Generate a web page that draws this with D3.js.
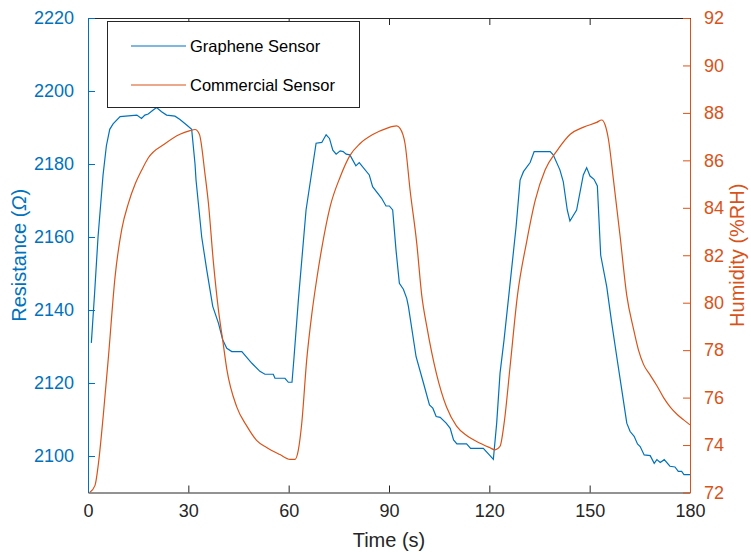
<!DOCTYPE html>
<html>
<head>
<meta charset="utf-8">
<script src="https://cdn.jsdelivr.net/npm/d3@7"></script>
<style>
  html, body { margin: 0; padding: 0; background: #fff; }
  text { font-family: "Liberation Sans", Arial, Helvetica, sans-serif; }
</style>
</head>
<body>
<svg id="chart" width="751" height="552"></svg>
<script>
// ---- data ----
const graphTime = [1, 2, 3, 4.5, 5.5, 6.5, 7.5, 9.6, 14.6, 16, 17, 18, 19.5, 20.5, 22, 23.5, 26, 27.5, 29.5, 31,
  32, 32.3, 34, 35.5, 37.3, 39, 40.3, 41.5, 43, 46, 49, 51.4, 52.9, 55.4, 55.9, 58.9, 59.9, 61,
  61.6, 62.9, 65.2, 68.2, 69.9, 71.2, 72.2, 73.2, 74.2, 75.4, 76.3, 77.2, 78.3, 80.1, 81.1, 84.1, 85.1,
  87.8, 89.1, 90.1, 91.1, 92.1, 93.1, 94.3, 95.3, 95.8, 98.1, 100.3, 102.1, 103.1, 104.1, 105.3,
  107.1, 108.3, 109.3, 110.3, 113.2, 114.4, 118.2, 120, 121.2, 122.2, 123.2, 124.4, 126, 128, 129.2,
  130.2, 132.2, 133.4, 138.2, 139.1, 141.1, 142.1, 143.3, 144.1, 146.1, 148.1, 149.1, 150.1, 151.3,
  152.3, 153.3, 155.1, 156.6, 158.1, 159.6, 161.1, 162.1, 163.3, 164.3, 165.1, 166.3, 168.1, 169.3,
  170.1, 171.1, 172.3, 174, 175.5, 176.5, 177.5, 178.2, 180];
const graphRes = [2131, 2145, 2160, 2177, 2185, 2189.5, 2191, 2193, 2193.4, 2192.5, 2193.4, 2193.7, 2194.8, 2195.5, 2194.3, 2193.4, 2193.1, 2192.2, 2190.7, 2189.5,
  2180, 2175.6, 2160, 2151, 2141, 2136.4, 2131.8, 2129.5, 2128.6, 2128.6, 2125.4, 2123.2, 2122.4, 2122.4, 2121.3, 2121.3, 2120.2, 2120.2,
  2127, 2142.7, 2167.4, 2185.7, 2185.9, 2188, 2187, 2183.8, 2182.7, 2183.6, 2183.4, 2182.7, 2182.5, 2179.5, 2180.4, 2177, 2173.8,
  2170.6, 2168.5, 2168.5, 2167.4, 2156.4, 2147.3, 2145.7, 2143.2, 2141, 2127.2, 2120, 2114, 2113.1, 2110.8, 2110.6,
  2109, 2107.6, 2104.4, 2103.3, 2103.3, 2102.1, 2102.1, 2100.3, 2099.1, 2109, 2122.7, 2131.8, 2145.5, 2162.8, 2175.6,
  2177.9, 2180.4, 2183.4, 2183.4, 2182.5, 2178.4, 2175.2, 2167.4, 2164.4, 2167.4, 2177, 2179, 2176.7, 2175.8,
  2174, 2155, 2146.4, 2136.4, 2127.2, 2118.1, 2109, 2106.7, 2105.4, 2103.3, 2102.6, 2100.3, 2100.1, 2098,
  2099, 2098.2, 2099, 2097.2, 2097, 2095.8, 2095.8, 2094.9, 2094.9];

const commTime = [0.5, 2.1, 3.1, 4.6, 6.1, 8.1, 10.1, 12.1, 14.1, 16.1, 18, 23, 27.5, 30.5, 32, 33.3, 35, 36, 37.5, 39, 40.3,
  41.5, 44.5, 47.5, 50.4, 53.4, 57.4, 60.4, 61.9, 62.9, 63.9, 65.4, 66.9, 68.4, 69.9, 72.4, 75.4, 78.3, 81.3,
  85.3, 89.3, 92.3, 93.3, 94.8, 96.3, 98.3, 99.8, 101.3, 104.2, 107.2, 110.2, 113.2, 116.2, 120, 121.7, 123.2,
  124.4, 126.2, 128.4, 131.2, 133.7, 136.7, 140.2, 144.2, 148.2, 152.1, 153.6, 154.6, 155.6, 157.1, 159.1, 161.1,
  163.1, 164.6, 166.1, 168.1, 170.1, 172.1, 174.1, 176.1, 178.1, 180];
const commHum = [72.0, 72.3, 73.2, 75.3, 77.7, 81.1, 83.1, 84.2, 85.0, 85.6, 86.1, 86.7, 87.1, 87.25, 87.3, 87.1, 85.4, 84.2, 81.7, 79.7, 78.4,
  77.2, 75.6, 74.8, 74.2, 73.9, 73.6, 73.4, 73.4, 73.8, 74.9, 77.6, 79.5, 81.0, 82.3, 84.05, 85.3, 86.2, 86.7,
  87.1, 87.35, 87.45, 87.35, 86.7, 84.75, 82.5, 80.3, 79.0, 77.0, 75.6, 74.8, 74.4, 74.15, 73.9, 73.8, 73.95,
  74.9, 77.3, 80.3, 82.6, 84.3, 85.6, 86.4, 87.1, 87.4, 87.6, 87.7, 87.5, 86.9, 85.2, 82.8, 80.3,
  78.9, 78.0, 77.4, 76.95, 76.5, 76.0, 75.6, 75.3, 75.06, 74.85];

const xTicks = [0, 30, 60, 90, 120, 150, 180];
const leftTicks = [2100, 2120, 2140, 2160, 2180, 2200, 2220];
const rightTicks = [72, 74, 76, 78, 80, 82, 84, 86, 88, 90, 92];
const seriesNames = ["Graphene Sensor", "Commercial Sensor"];

// ---- layout ----
const BLUE = "#0072BD", ORANGE = "#D95319", DARK = "#262626";
const L = 88, R = 690, T = 18, B = 492.5;
const TICK = 7;
const FONT = "Liberation Sans, Arial, sans-serif";

const svg = d3.select("#chart");
const x = d3.scaleLinear().domain([0, 180]).range([L, R]);
const yL = d3.scaleLinear().domain([2090, 2220]).range([B, T]);
const yR = d3.scaleLinear().domain([72, 92]).range([B, T]);
const fmt = d3.format("d");

// axes
const gx = svg.append("g").attr("transform", `translate(0,${B})`)
  .call(d3.axisBottom(x).tickValues(xTicks).tickFormat(fmt).tickSizeInner(-TICK).tickSizeOuter(0).tickPadding(12));
gx.select(".domain").attr("stroke", DARK);
gx.selectAll(".tick line").attr("stroke", DARK);
gx.selectAll(".tick text").attr("fill", DARK).style("font-size", "18px").attr("font-family", FONT);

const gxt = svg.append("g").attr("transform", `translate(0,${T})`)
  .call(d3.axisTop(x).tickValues(xTicks).tickSizeInner(-TICK).tickSizeOuter(0).tickFormat(""));
gxt.select(".domain").attr("stroke", DARK);
gxt.selectAll(".tick line").attr("stroke", DARK);

const gl = svg.append("g").attr("transform", `translate(${L},0)`)
  .call(d3.axisLeft(yL).tickValues(leftTicks).tickFormat(fmt).tickSizeInner(-TICK).tickSizeOuter(0).tickPadding(14));
gl.select(".domain").attr("stroke", BLUE);
gl.selectAll(".tick line").attr("stroke", BLUE);
gl.selectAll(".tick text").attr("fill", BLUE).style("font-size", "18px").attr("font-family", FONT);

const gr = svg.append("g").attr("transform", `translate(${R},0)`)
  .call(d3.axisRight(yR).tickValues(rightTicks).tickFormat(fmt).tickSizeInner(-TICK).tickSizeOuter(0).tickPadding(14));
gr.select(".domain").attr("stroke", ORANGE);
gr.selectAll(".tick line").attr("stroke", ORANGE);
gr.selectAll(".tick text").attr("fill", ORANGE).style("font-size", "18px").attr("font-family", FONT);

// lines
const lineL = d3.line().x(d => x(d[0])).y(d => yL(d[1]));
const lineR = d3.line().x(d => x(d[0])).y(d => yR(d[1])).curve(d3.curveMonotoneX);
svg.append("path").datum(graphTime.map((t, i) => [t, graphRes[i]]))
  .attr("d", lineL).attr("fill", "none").attr("stroke", BLUE).attr("stroke-width", 1.2);
svg.append("path").datum(commTime.map((t, i) => [t, commHum[i]]))
  .attr("d", lineR).attr("fill", "none").attr("stroke", ORANGE).attr("stroke-width", 1.2);

// axis titles
const yt = svg.append("text").attr("transform", `translate(26,${(T + B) / 2}) rotate(-90)`)
  .attr("text-anchor", "middle").attr("fill", BLUE).style("font-size", "20px");
yt.append("tspan").text("Resistance (");
yt.append("tspan").style("font-style", "italic").text("Ω");
yt.append("tspan").text(")");

svg.append("text").attr("transform", `translate(744,${(T + B) / 2}) rotate(-90)`)
  .attr("text-anchor", "middle").attr("fill", ORANGE).style("font-size", "20px")
  .text("Humidity (%RH)");

svg.append("text").attr("x", (L + R) / 2).attr("y", 547)
  .attr("text-anchor", "middle").attr("fill", DARK).style("font-size", "20px")
  .text("Time (s)");

// legend
const lg = svg.append("g");
lg.append("rect").attr("x", 107.5).attr("y", 21.5).attr("width", 252).attr("height", 86)
  .attr("fill", "#fff").attr("stroke", DARK).attr("stroke-width", 1);
const legColors = [BLUE, ORANGE];
seriesNames.forEach((name, i) => {
  const yy = 46 + i * 39;
  lg.append("line").attr("x1", 131).attr("x2", 186).attr("y1", yy).attr("y2", yy)
    .attr("stroke", legColors[i]).attr("stroke-width", 1.2);
  lg.append("text").attr("x", 190).attr("y", yy).attr("dy", "0.35em")
    .attr("fill", "#000").style("font-size", "16.5px").text(name);
});
</script>
</body>
</html>
